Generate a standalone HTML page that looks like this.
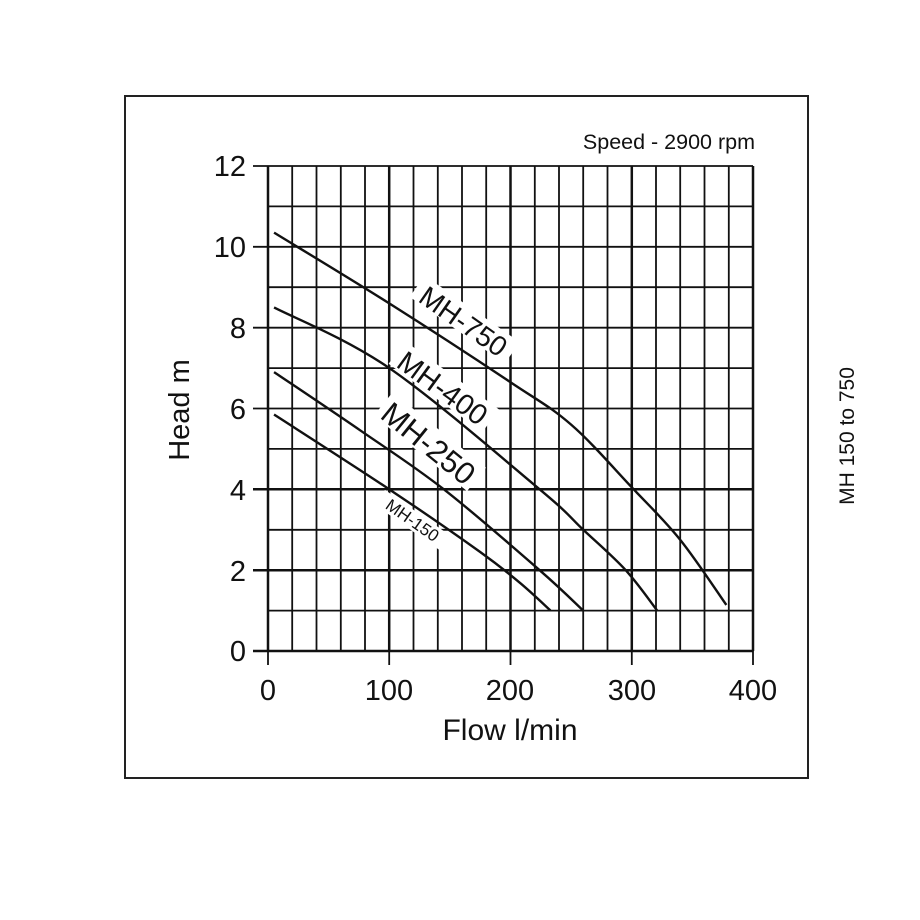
<!DOCTYPE html>
<html><head><style>body{margin:0;background:#fff}svg{display:block}</style></head><body>
<svg id="s" width="920" height="920" xmlns="http://www.w3.org/2000/svg" font-family="Liberation Sans, sans-serif">
<rect x="0" y="0" width="920" height="920" fill="#fff"/>
<rect x="125" y="96" width="683" height="682" fill="none" stroke="#222" stroke-width="2"/>
<g stroke="#111" stroke-width="1.8">
<line x1="268.0" y1="166" x2="268.0" y2="651" stroke-width="2.5"/><line x1="292.2" y1="166" x2="292.2" y2="651"/><line x1="316.5" y1="166" x2="316.5" y2="651"/><line x1="340.8" y1="166" x2="340.8" y2="651"/><line x1="365.0" y1="166" x2="365.0" y2="651"/><line x1="389.2" y1="166" x2="389.2" y2="651" stroke-width="2.5"/><line x1="413.5" y1="166" x2="413.5" y2="651"/><line x1="437.8" y1="166" x2="437.8" y2="651"/><line x1="462.0" y1="166" x2="462.0" y2="651"/><line x1="486.2" y1="166" x2="486.2" y2="651"/><line x1="510.5" y1="166" x2="510.5" y2="651" stroke-width="2.5"/><line x1="534.8" y1="166" x2="534.8" y2="651"/><line x1="559.0" y1="166" x2="559.0" y2="651"/><line x1="583.2" y1="166" x2="583.2" y2="651"/><line x1="607.5" y1="166" x2="607.5" y2="651"/><line x1="631.8" y1="166" x2="631.8" y2="651" stroke-width="2.5"/><line x1="656.0" y1="166" x2="656.0" y2="651"/><line x1="680.2" y1="166" x2="680.2" y2="651"/><line x1="704.5" y1="166" x2="704.5" y2="651"/><line x1="728.8" y1="166" x2="728.8" y2="651"/><line x1="753.0" y1="166" x2="753.0" y2="651" stroke-width="2.5"/>
<line x1="253" y1="166" x2="753" y2="166"/><line x1="268" y1="206.4" x2="753" y2="206.4"/><line x1="253" y1="246.8" x2="753" y2="246.8"/><line x1="268" y1="287.2" x2="753" y2="287.2"/><line x1="253" y1="327.7" x2="753" y2="327.7"/><line x1="268" y1="368.1" x2="753" y2="368.1"/><line x1="253" y1="408.5" x2="753" y2="408.5"/><line x1="268" y1="448.9" x2="753" y2="448.9"/><line x1="253" y1="489.3" x2="753" y2="489.3" stroke-width="2.5"/><line x1="268" y1="529.8" x2="753" y2="529.8"/><line x1="253" y1="570.2" x2="753" y2="570.2" stroke-width="2.5"/><line x1="268" y1="610.6" x2="753" y2="610.6"/><line x1="253" y1="651" x2="753" y2="651" stroke-width="2.5"/>
<line x1="268" y1="651" x2="268" y2="665"/><line x1="389.2" y1="651" x2="389.2" y2="665"/><line x1="510.5" y1="651" x2="510.5" y2="665"/><line x1="631.8" y1="651" x2="631.8" y2="665"/><line x1="753" y1="651" x2="753" y2="665"/>
</g>
<g fill="#fff">
<rect x="-58" y="-16" width="116" height="26" transform="translate(463,322) rotate(35)"/>
<rect x="-58" y="-17" width="116" height="28" transform="translate(442,389) rotate(36)"/>
<rect x="-60" y="-18" width="120" height="30" transform="translate(428,444) rotate(39)"/>
<rect x="-40" y="-10" width="80" height="18" transform="translate(412,521) rotate(35)"/>
</g>
<g id="curves" fill="none" stroke="#111" stroke-width="2.4"></g>
<g fill="#111" text-anchor="middle">
<text transform="translate(463,322) rotate(35)" dy="9" font-size="28">MH-750</text>
<text transform="translate(442,389) rotate(36)" dy="9" font-size="29">MH-400</text>
<text transform="translate(428,444) rotate(39)" dy="10" font-size="31">MH-250</text>
<text transform="translate(412,521) rotate(35)" dy="5" font-size="17">MH-150</text>
</g>
<g font-size="29" fill="#111" text-anchor="end">
<text x="246" y="176">12</text><text x="246" y="257">10</text><text x="246" y="338">8</text><text x="246" y="419">6</text><text x="246" y="500">4</text><text x="246" y="581">2</text><text x="246" y="661">0</text>
</g>
<g font-size="29" fill="#111" text-anchor="middle">
<text x="268" y="700">0</text><text x="389" y="700">100</text><text x="510" y="700">200</text><text x="632" y="700">300</text><text x="753" y="700">400</text>
<text x="510" y="740" font-size="30">Flow l/min</text>
<text transform="translate(189,410) rotate(-90)" font-size="29">Head m</text>
</g>
<text x="755" y="149" font-size="21.5" text-anchor="end" fill="#111">Speed - 2900 rpm</text>
<text transform="translate(854,436) rotate(-90)" font-size="21" text-anchor="middle" fill="#111">MH 150 to 750</text>
</svg>
<script>
var data=[
[[5,10.35],[100,8.6],[200,6.65],[250,5.6],[300,4.05],[340,2.75],[378,1.14]],
[[5,8.5],[100,7.0],[224,4.0],[260,3],[295,2],[321,1]],
[[5,6.9],[76,5.46],[145,4],[224,2],[260,1]],
[[5,5.85],[100,4],[175,2.45],[208,1.68],[233,1]]
];
var g=document.getElementById('curves');
data.forEach(function(d){
 var p=d.map(function(a){return [268+1.2125*a[0],651-40.42*a[1]];});
 var s='M'+p[0][0]+','+p[0][1];
 for(var i=0;i<p.length-1;i++){
  var p0=p[i-1]||p[i],p1=p[i],p2=p[i+1],p3=p[i+2]||p2;
  var c1=[p1[0]+(p2[0]-p0[0])/6,p1[1]+(p2[1]-p0[1])/6];
  var c2=[p2[0]-(p3[0]-p1[0])/6,p2[1]-(p3[1]-p1[1])/6];
  s+=' C'+c1+' '+c2+' '+p2;
 }
 var e=document.createElementNS('http://www.w3.org/2000/svg','path');
 e.setAttribute('d',s);g.appendChild(e);
});
</script>
</body></html>
